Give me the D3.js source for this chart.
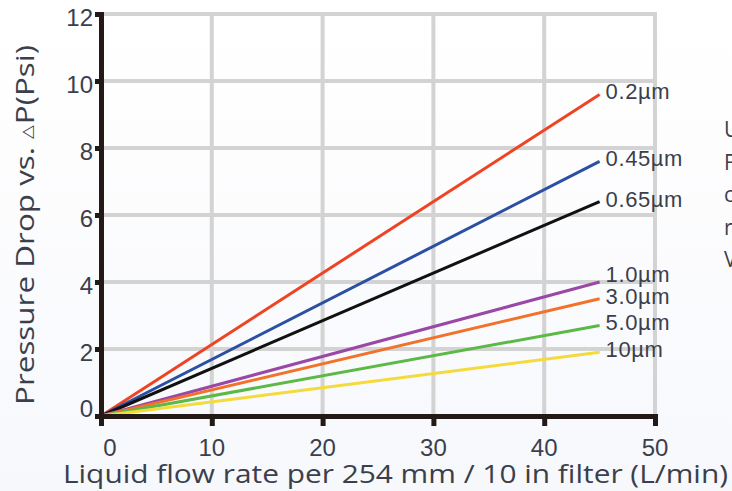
<!DOCTYPE html>
<html>
<head>
<meta charset="utf-8">
<script src="https://cdn.jsdelivr.net/npm/d3@7"></script>
<style>
  body { margin: 0; background: #fff; }
  svg { display: block; }
  .tick-label { font-family: "Liberation Sans", Arial, sans-serif; font-size: 24px; fill: #3b3f4c; }
  .axis-title { font-family: "Open Sans", "Noto Sans", sans-serif; font-size: 26px; fill: #3b3f4c; }
  .series-label { font-family: "Liberation Sans", Arial, sans-serif; font-size: 22px; fill: #3b3f4c; letter-spacing: 0.6px; }
  .side-text { font-family: "Open Sans", sans-serif; font-size: 21px; fill: #3b3f4c; }
</style>
</head>
<body>
<div id="chart"></div>
<script>
// Data
const flowRates = [0, 45];
const poreSizes = ["0.2µm", "0.45µm", "0.65µm", "1.0µm", "3.0µm", "5.0µm", "10µm"];
const pressureAt45 = [9.6, 7.6, 6.4, 4.0, 3.5, 2.7, 1.9];
const lineColors = ["#ee4424", "#2b4fa3", "#111111", "#9a47a6", "#f2722a", "#5cb946", "#f4da3a"];
const xTicks = [0, 10, 20, 30, 40, 50];
const yTicks = [0, 2, 4, 6, 8, 10, 12];
const sideLetters = ["U", "F", "c", "r", "V"];

const width = 732;
const height = 491;

const svg = d3.select("#chart")
    .append("svg")
    .attr("width", width)
    .attr("height", height);

// Faint background wash
const grad = svg.append("defs").append("linearGradient")
    .attr("id", "bg")
    .attr("x1", 0).attr("y1", 0).attr("x2", 0).attr("y2", 1);
grad.append("stop").attr("offset", "0%").attr("stop-color", "#ffffff");
grad.append("stop").attr("offset", "35%").attr("stop-color", "#fdfdfe");
grad.append("stop").attr("offset", "100%").attr("stop-color", "#f6f8fc");
svg.append("rect")
    .attr("width", width)
    .attr("height", height)
    .attr("fill", "url(#bg)");

const xScale = d3.scaleLinear().domain([0, 50]).range([101, 655]);
const yScale = d3.scaleLinear().domain([0, 12]).range([416, 14]);

// Grid
svg.append("g")
    .selectAll("line")
    .data(xTicks.slice(1))
    .join("line")
    .attr("x1", d => xScale(d))
    .attr("x2", d => xScale(d))
    .attr("y1", yScale(12))
    .attr("y2", yScale(0))
    .attr("stroke", "#d3d3d3")
    .attr("stroke-width", 4);

svg.append("g")
    .selectAll("line")
    .data(yTicks.slice(1))
    .join("line")
    .attr("x1", xScale(0))
    .attr("x2", xScale(50) + 2)
    .attr("y1", d => yScale(d))
    .attr("y2", d => yScale(d))
    .attr("stroke", "#d3d3d3")
    .attr("stroke-width", 4);

// Series lines
const line = d3.line()
    .x(d => xScale(d[0]))
    .y(d => yScale(d[1]));

const series = poreSizes.map((name, i) => ({
    name,
    color: lineColors[i],
    points: flowRates.map(f => [f, f === 0 ? 0 : pressureAt45[i]])
}));

svg.append("g")
    .selectAll("path")
    .data(series)
    .join("path")
    .attr("d", d => line(d.points))
    .attr("fill", "none")
    .attr("stroke", d => d.color)
    .attr("stroke-width", 3);

// End labels: sit a little above the line end, pushed apart when crowded
const labelY = series.map(d => yScale(d.points[1][1]) - 3);
for (let i = labelY.length - 2; i >= 0; i--) {
    if (labelY[i + 1] - labelY[i] < 22) labelY[i] = labelY[i + 1] - 22;
}

svg.append("g")
    .selectAll("text")
    .data(series)
    .join("text")
    .attr("class", "series-label")
    .attr("x", xScale(45) + 6)
    .attr("y", (d, i) => labelY[i])
    .attr("dy", "0.36em")
    .text(d => d.name);

// Axes
const leftAxis = d3.axisLeft(yScale)
    .tickValues(yTicks)
    .tickSize(6)
    .tickSizeOuter(0)
    .tickFormat("");
const yAxisG = svg.append("g")
    .attr("transform", `translate(${xScale(0)},0)`)
    .call(leftAxis);

const bottomAxis = d3.axisBottom(xScale)
    .tickValues(xTicks)
    .tickSize(10)
    .tickSizeOuter(0)
    .tickFormat("");
const xAxisG = svg.append("g")
    .attr("transform", `translate(0,${yScale(0)})`)
    .call(bottomAxis);

[yAxisG, xAxisG].forEach(g => {
    g.select(".domain")
        .attr("stroke", "#231916")
        .attr("stroke-width", 5)
        .attr("stroke-linecap", "square");
    g.selectAll(".tick line")
        .attr("stroke", "#231916")
        .attr("stroke-width", 5);
});

// Tick labels
svg.append("g")
    .selectAll("text")
    .data(yTicks)
    .join("text")
    .attr("class", "tick-label")
    .attr("text-anchor", "end")
    .attr("x", 93)
    .attr("y", d => yScale(d) + (d === 0 ? -8 : 3))
    .attr("dy", "0.36em")
    .text(d => d);

svg.append("g")
    .selectAll("text")
    .data(xTicks)
    .join("text")
    .attr("class", "tick-label")
    .attr("text-anchor", "middle")
    .attr("x", d => xScale(d) + (d === 0 ? 9 : 0))
    .attr("y", 456)
    .text(d => d);

// Axis titles
svg.append("text")
    .attr("class", "axis-title")
    .attr("x", 63)
    .attr("y", 483)
    .attr("textLength", 665)
    .attr("lengthAdjust", "spacingAndGlyphs")
    .text("Liquid flow rate per 254 mm / 10 in filter (L/min)");

const yTitle = svg.append("text")
    .attr("class", "axis-title")
    .attr("transform", "translate(34,405) rotate(-90)")
    .attr("textLength", 360)
    .attr("lengthAdjust", "spacingAndGlyphs");
yTitle.append("tspan").text("Pressure Drop vs. ");
yTitle.append("tspan").attr("font-size", "15px").attr("dy", "-2").text("△");
yTitle.append("tspan").attr("dy", "2").text("P(Psi)");

// Text cut off by the right edge, as in the source image
svg.append("g")
    .selectAll("text")
    .data(sideLetters)
    .join("text")
    .attr("class", "side-text")
    .attr("x", 724)
    .attr("y", (d, i) => 137 + i * 32.5)
    .text(d => d);
</script>
</body>
</html>
